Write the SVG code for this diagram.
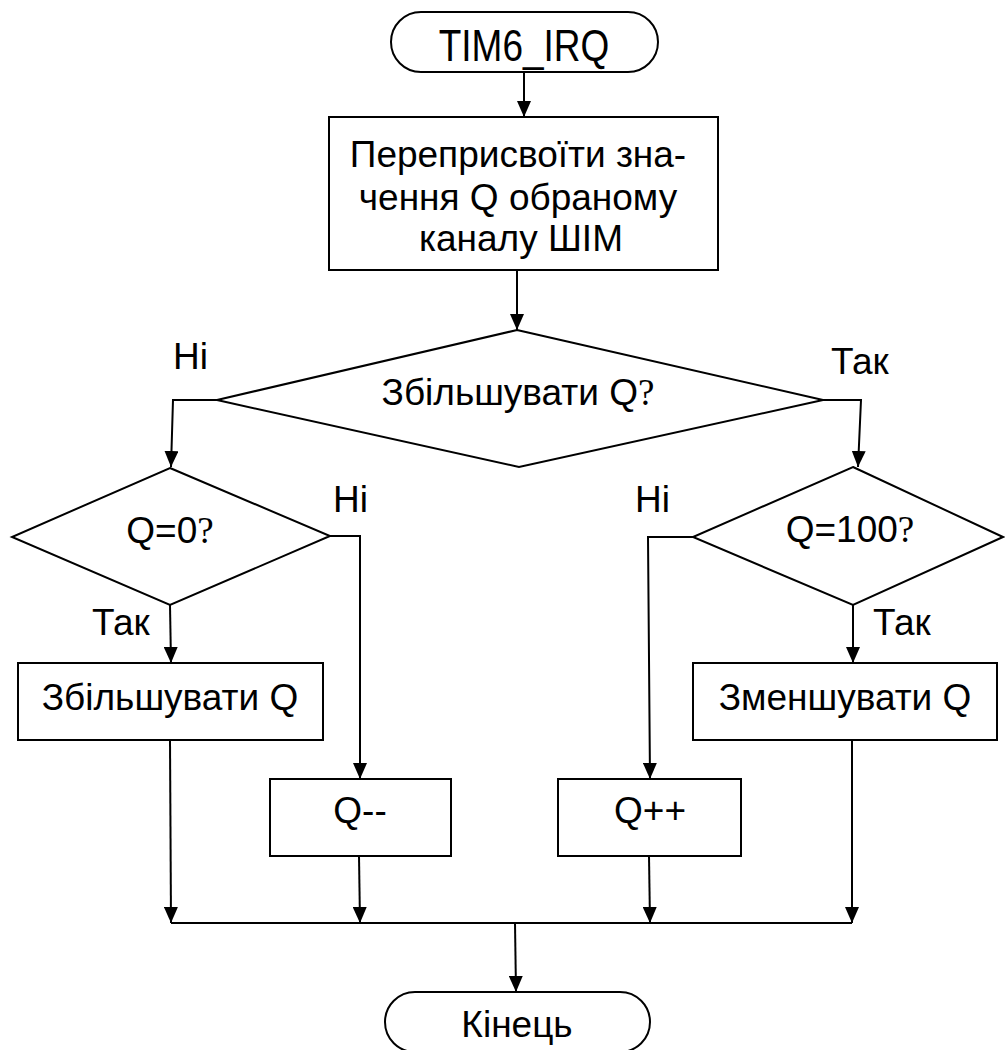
<svg xmlns="http://www.w3.org/2000/svg" width="1005" height="1050" viewBox="0 0 1005 1050">
  <style>
    .shape { fill: #ffffff; stroke: #000000; stroke-width: 2; }
    .line { fill: none; stroke: #000000; stroke-width: 2; }
    text { font-family: "Liberation Sans", Arial, sans-serif; font-size: 37px; fill: #000000; }
    .mid { text-anchor: middle; }
    .q { font-family: "Liberation Serif", "Times New Roman", serif; }
  </style>
  <defs>
    <marker id="arrow" viewBox="0 0 16 14" refX="16" refY="7" markerWidth="16" markerHeight="14" markerUnits="userSpaceOnUse" orient="auto">
      <path d="M0,0 L16,7 L0,14 z" fill="#000000"/>
    </marker>
  </defs>
  <rect width="1005" height="1050" fill="#ffffff"/>

  <!-- connectors -->
  <g id="connectors">
    <path class="line" d="M524,72 L524,117" marker-end="url(#arrow)"/>
    <path class="line" d="M517,270 L517,330" marker-end="url(#arrow)"/>
    <path class="line" d="M217,400 L173,400 L171,467" marker-end="url(#arrow)"/>
    <path class="line" d="M823,400 L861,400 L858,467" marker-end="url(#arrow)"/>
    <path class="line" d="M170,605 L171,663" marker-end="url(#arrow)"/>
    <path class="line" d="M330,536 L360,536 L360,779" marker-end="url(#arrow)"/>
    <path class="line" d="M853,605 L853,663" marker-end="url(#arrow)"/>
    <path class="line" d="M693,537 L648,537 L650,779" marker-end="url(#arrow)"/>
    <path class="line" d="M170,740 L171,923" marker-end="url(#arrow)"/>
    <path class="line" d="M359,856 L360,923" marker-end="url(#arrow)"/>
    <path class="line" d="M649,856 L650,923" marker-end="url(#arrow)"/>
    <path class="line" d="M852,740 L852,923" marker-end="url(#arrow)"/>
    <path class="line" d="M171,923 L852,923"/>
    <path class="line" d="M515,923 L516,992" marker-end="url(#arrow)"/>
    <text x="173" y="369">Ні</text>
    <text x="831" y="374">Так</text>
    <text x="333" y="512">Ні</text>
    <text x="92" y="635">Так</text>
    <text x="635" y="512">Ні</text>
    <text x="873" y="635">Так</text>
  </g>

  <g id="start">
    <rect class="shape" x="391" y="12" width="267" height="60" rx="30" ry="30"/>
    <text class="mid" transform="translate(524,61) scale(1,1.18)">TIM6_IRQ</text>
  </g>

  <g id="assign">
    <rect class="shape" x="329" y="117" width="389" height="153"/>
    <text class="mid" x="518" y="167">Переприсвоїти зна-</text>
    <text class="mid" x="518" y="210">чення Q обраному</text>
    <text class="mid" x="521" y="251">каналу ШІМ</text>
  </g>

  <g id="dec-increase">
    <polygon class="shape" points="517,330 823,400 519,467 217,400"/>
    <text class="mid" x="518" y="405">Збільшувати Q<tspan class="q">?</tspan></text>
  </g>

  <g id="dec-zero">
    <polygon class="shape" points="170,468 330,536 170,605 12,537"/>
    <text class="mid" x="170" y="543">Q=0<tspan class="q">?</tspan></text>
  </g>

  <g id="dec-hundred">
    <polygon class="shape" points="853,467 1003,537 853,605 693,537"/>
    <text class="mid" x="850" y="542">Q=100<tspan class="q">?</tspan></text>
  </g>

  <g id="inc-box">
    <rect class="shape" x="18" y="663" width="305" height="77"/>
    <text class="mid" x="170" y="710">Збільшувати Q</text>
  </g>

  <g id="dec-box">
    <rect class="shape" x="693" y="663" width="304" height="77"/>
    <text class="mid" x="845" y="710">Зменшувати Q</text>
  </g>

  <g id="minus-box">
    <rect class="shape" x="270" y="779" width="181" height="77"/>
    <text class="mid" x="360" y="823">Q--</text>
  </g>

  <g id="plus-box">
    <rect class="shape" x="558" y="779" width="183" height="77"/>
    <text class="mid" x="650" y="823">Q++</text>
  </g>

  <g id="end">
    <rect class="shape" x="385" y="992" width="265" height="60" rx="30" ry="30"/>
    <text class="mid" x="517" y="1037">Кінець</text>
  </g>
</svg>
